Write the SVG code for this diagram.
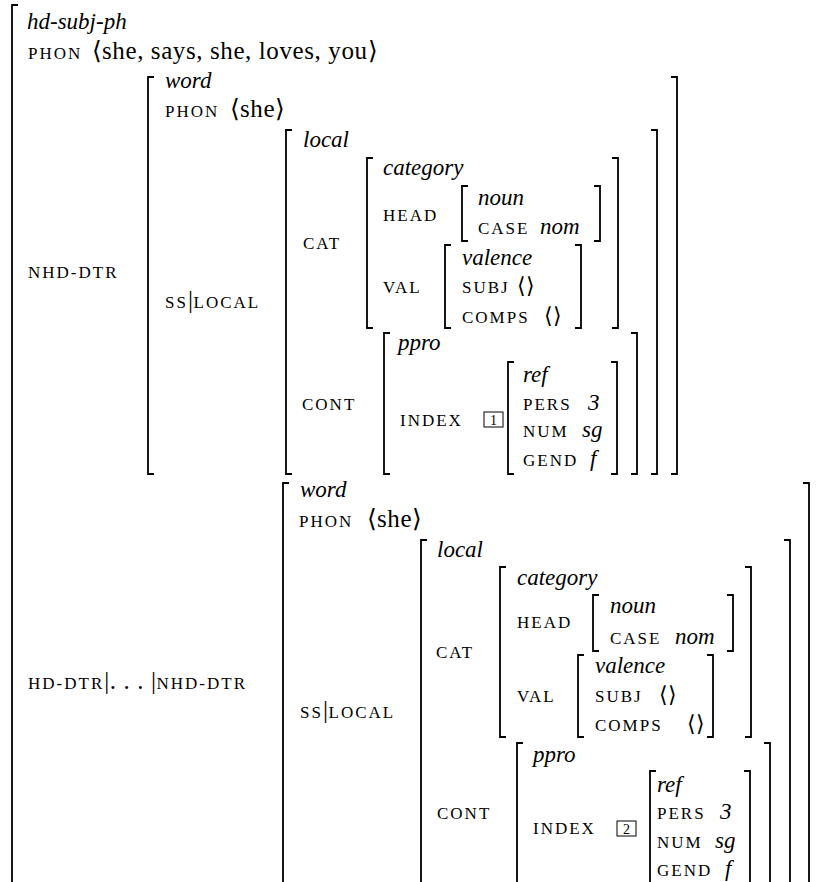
<svg xmlns="http://www.w3.org/2000/svg" width="823" height="882" viewBox="0 0 823 882">
<style>
text,tspan{font-family:Liberation Serif,Tinos,Times New Roman,serif}
.br{fill:none;stroke:#000;stroke-width:1.8}
.sc{font-size:17px;letter-spacing:2px}
.rm{font-size:25px;letter-spacing:0.6px}
.it{font-size:23px;font-style:italic}
.ang{letter-spacing:0}
.e{font-size:22px}
.bx{fill:none;stroke:#000;stroke-width:1}
.num{font-size:14px;text-anchor:middle}
</style>
<rect width="823" height="882" fill="#fff"/>

<g id="outer">
<path class="br" d="M18,5H12V884"/>
<text style="font-family:Liberation Serif" class="it" x="27" y="29">hd-subj-ph</text>
<text style="font-family:Liberation Serif" class="sc" x="28" y="59">PHON</text>
<text style="font-family:Liberation Serif" class="rm" x="92" y="59"><tspan class="ang">⟨</tspan>she, says, she, loves, you<tspan class="ang">⟩</tspan></text>
</g>

<g id="nhd-dtr">
<text style="font-family:Liberation Serif" class="sc" x="28" y="278">NHD-DTR</text>
<path class="br" d="M154,77H148V474H154"/>
<path class="br" d="M671,77H677V474H671"/>
<text style="font-family:Liberation Serif" class="it" x="165" y="88">word</text>
<text style="font-family:Liberation Serif" class="sc" x="165" y="117">PHON</text>
<text style="font-family:Liberation Serif" class="rm" x="230" y="117"><tspan class="ang">⟨</tspan>she<tspan class="ang">⟩</tspan></text>
<text style="font-family:Liberation Serif" x="165" y="308"><tspan class="sc">SS</tspan><tspan class="rm">|</tspan><tspan class="sc">LOCAL</tspan></text>

<g id="nhd-local">
<path class="br" d="M292,130H286V474H292"/>
<path class="br" d="M651,130H657V474H651"/>
<text style="font-family:Liberation Serif" class="it" x="303" y="147">local</text>
<text style="font-family:Liberation Serif" class="sc" x="303" y="249">CAT</text>
<text style="font-family:Liberation Serif" class="sc" x="302" y="410">CONT</text>

<g id="nhd-category">
<path class="br" d="M373,158H367V328H373"/>
<path class="br" d="M612,158H618V328H612"/>
<text style="font-family:Liberation Serif" class="it" x="383" y="175">category</text>
<text style="font-family:Liberation Serif" class="sc" x="383" y="221">HEAD</text>
<text style="font-family:Liberation Serif" class="sc" x="383" y="293">VAL</text>
<path class="br" d="M468,186H462V241H468"/>
<path class="br" d="M594,186H600V241H594"/>
<text style="font-family:Liberation Serif" class="it" x="478" y="205">noun</text>
<text style="font-family:Liberation Serif" class="sc" x="478" y="234">CASE</text>
<text style="font-family:Liberation Serif" class="it" x="540" y="234">nom</text>
<path class="br" d="M451,245H445V328H451"/>
<path class="br" d="M575,245H581V328H575"/>
<text style="font-family:Liberation Serif" class="it" x="462" y="265">valence</text>
<text style="font-family:Liberation Serif" class="sc" x="462" y="293">SUBJ</text>
<text style="font-family:Liberation Serif" class="ang e" x="517" y="293">⟨⟩</text>
<text style="font-family:Liberation Serif" class="sc" x="462" y="323">COMPS</text>
<text style="font-family:Liberation Serif" class="ang e" x="544" y="323">⟨⟩</text>
</g>

<g id="nhd-content">
<path class="br" d="M390,333H384V474H390"/>
<path class="br" d="M631,333H637V474H631"/>
<text style="font-family:Liberation Serif" class="it" x="398" y="350">ppro</text>
<text style="font-family:Liberation Serif" class="sc" x="400" y="426">INDEX</text>
<rect class="bx" x="484" y="412" width="19" height="15"/>
<text style="font-family:Liberation Serif" class="num" x="493.5" y="425">1</text>
<path class="br" d="M514,362H508V474H514"/>
<path class="br" d="M611,362H617V474H611"/>
<text style="font-family:Liberation Serif" class="it" x="523" y="382">ref</text>
<text style="font-family:Liberation Serif" class="sc" x="523" y="410">PERS</text>
<text style="font-family:Liberation Serif" class="it" x="588" y="410">3</text>
<text style="font-family:Liberation Serif" class="sc" x="523" y="437">NUM</text>
<text style="font-family:Liberation Serif" class="it" x="582" y="437">sg</text>
<text style="font-family:Liberation Serif" class="sc" x="523" y="466">GEND</text>
<text style="font-family:Liberation Serif" class="it" x="590" y="466">f</text>
</g>
</g>
</g>

<g id="hd-dtr">
<text style="font-family:Liberation Serif" x="28" y="689"><tspan class="sc">HD-DTR</tspan><tspan class="rm">|. . . |</tspan><tspan class="sc">NHD-DTR</tspan></text>
<path class="br" d="M289,483H283V884"/>
<path class="br" d="M803,483H809V884"/>
<text style="font-family:Liberation Serif" class="it" x="300" y="497">word</text>
<text style="font-family:Liberation Serif" class="sc" x="299" y="527">PHON</text>
<text style="font-family:Liberation Serif" class="rm" x="367" y="527"><tspan class="ang">⟨</tspan>she<tspan class="ang">⟩</tspan></text>
<text style="font-family:Liberation Serif" x="300" y="718"><tspan class="sc">SS</tspan><tspan class="rm">|</tspan><tspan class="sc">LOCAL</tspan></text>

<g id="hd-local">
<path class="br" d="M427,540H421V884"/>
<path class="br" d="M784,540H790V884"/>
<text style="font-family:Liberation Serif" class="it" x="437" y="557">local</text>
<text style="font-family:Liberation Serif" class="sc" x="436" y="658">CAT</text>
<text style="font-family:Liberation Serif" class="sc" x="437" y="819">CONT</text>

<g id="hd-category">
<path class="br" d="M506,567H500V737H506"/>
<path class="br" d="M745,567H751V737H745"/>
<text style="font-family:Liberation Serif" class="it" x="517" y="585">category</text>
<text style="font-family:Liberation Serif" class="sc" x="517" y="628">HEAD</text>
<text style="font-family:Liberation Serif" class="sc" x="517" y="702">VAL</text>
<path class="br" d="M599,595H593V651H599"/>
<path class="br" d="M727,595H733V651H727"/>
<text style="font-family:Liberation Serif" class="it" x="610" y="613">noun</text>
<text style="font-family:Liberation Serif" class="sc" x="610" y="644">CASE</text>
<text style="font-family:Liberation Serif" class="it" x="675" y="644">nom</text>
<path class="br" d="M584,655H578V737H584"/>
<path class="br" d="M707,655H713V737H707"/>
<text style="font-family:Liberation Serif" class="it" x="595" y="673">valence</text>
<text style="font-family:Liberation Serif" class="sc" x="595" y="702">SUBJ</text>
<text style="font-family:Liberation Serif" class="ang e" x="659" y="702">⟨⟩</text>
<text style="font-family:Liberation Serif" class="sc" x="595" y="731">COMPS</text>
<text style="font-family:Liberation Serif" class="ang e" x="687" y="731">⟨⟩</text>
</g>

<g id="hd-content">
<path class="br" d="M523,743H517V884"/>
<path class="br" d="M764,743H770V884"/>
<text style="font-family:Liberation Serif" class="it" x="533" y="762">ppro</text>
<text style="font-family:Liberation Serif" class="sc" x="533" y="834">INDEX</text>
<rect class="bx" x="617" y="821" width="19" height="15"/>
<text style="font-family:Liberation Serif" class="num" x="626.5" y="834">2</text>
<path class="br" d="M656,771H650V884"/>
<path class="br" d="M744,771H750V884"/>
<text style="font-family:Liberation Serif" class="it" x="657" y="792">ref</text>
<text style="font-family:Liberation Serif" class="sc" x="657" y="819">PERS</text>
<text style="font-family:Liberation Serif" class="it" x="720" y="819">3</text>
<text style="font-family:Liberation Serif" class="sc" x="657" y="848">NUM</text>
<text style="font-family:Liberation Serif" class="it" x="715" y="848">sg</text>
<text style="font-family:Liberation Serif" class="sc" x="657" y="876">GEND</text>
<text style="font-family:Liberation Serif" class="it" x="725" y="876">f</text>
</g>
</g>
</g>
</svg>
